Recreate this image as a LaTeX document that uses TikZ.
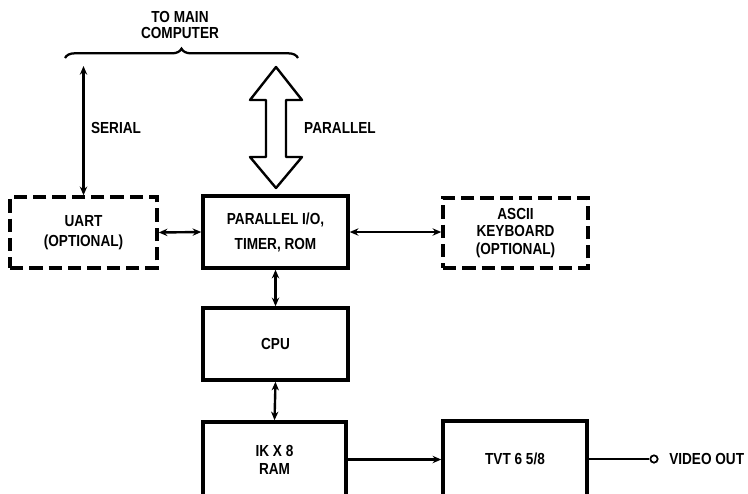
\documentclass[tikz,border=0pt]{standalone}
\usepackage{fontspec}
\setmainfont{Liberation Sans}[FakeStretch=0.85]
\usetikzlibrary{arrows.meta,decorations.pathreplacing}
\begin{document}
\begin{tikzpicture}[x=0.75pt,y=-0.75pt,
  font=\bfseries\fontsize{12}{13}\selectfont,
  box/.style={draw, line width=2.6pt, align=center, inner sep=0pt},
  dbox/.style={box, dash pattern=on 10pt off 4.5pt},
  conn/.style={line width=1.8pt, {Stealth[length=6.5pt,width=5.5pt]}-{Stealth[length=6.5pt,width=5.5pt]}},
  oneway/.style={line width=1.8pt, -{Stealth[length=6.5pt,width=5.5pt]}},
  lbl/.style={align=center, inner sep=0pt}]
\useasboundingbox (0,0) rectangle (748,493);
\clip (0,0) rectangle (748,493);

% title and brace
\node[lbl, font=\bfseries\fontsize{12}{12}\selectfont] (title) at (180,25) {TO MAIN\\COMPUTER};
\draw[line width=1.7pt, decorate, decoration={brace, amplitude=7pt}] (65,58) -- (298,58);

% boxes
\node[dbox, minimum width=110.25pt, minimum height=53.25pt,
      font=\bfseries\fontsize{12}{15}\selectfont] (uart) at (83.5,232.5) {UART\\(OPTIONAL)};
\node[box, minimum width=108.75pt, minimum height=54pt,
      font=\bfseries\fontsize{12}{18.75}\selectfont] (pio) at (275.5,232) {PARALLEL I/O,\\TIMER, ROM};
\node[dbox, minimum width=108.75pt, minimum height=52.5pt,
      font=\bfseries\fontsize{12}{13.2}\selectfont] (kb) at (515.5,233) {ASCII\\KEYBOARD\\(OPTIONAL)};
\node[box, minimum width=108.75pt, minimum height=54pt] (cpu) at (275.5,344) {CPU};
\node[box, minimum width=107.25pt, minimum height=56.25pt,
      font=\bfseries\fontsize{12}{13.5}\selectfont] (ram) at (274.5,459.5) {IK X 8\\RAM};
\node[box, minimum width=108pt, minimum height=57pt] (tvt) at (515,459) {TVT 6 5/8};

% serial link
\coordinate (sertop) at (83.5,66);
\draw[conn] (uart.north) -- (sertop);
\node[lbl] (serial) at (116,128) {SERIAL};

% parallel fat double arrow
\draw[line width=1.8pt, fill=white, line join=round]
  (276,67) -- (302,100) -- (286,100) -- (286,157) -- (302,157) -- (276,188)
  -- (250,157) -- (266,157) -- (266,100) -- (250,100) -- cycle;
\node[lbl] (parallel) at (340,128) {PARALLEL};

% connectors
\draw[conn] (uart.east) -- (pio.west);
\draw[conn] (pio.east) -- (pio.east -| kb.west);
\draw[conn] (pio.south) -- (cpu.north);
\draw[conn] (cpu.south) -- (ram.north);
\draw[oneway] (ram.east) -- (ram.east -| tvt.west);

% video out
\node[circle, draw, line width=1.3pt, inner sep=0pt, minimum size=5.5pt] (vo) at (654,459) {};
\draw[line width=1.8pt] (tvt.east) -- (vo.west);
\node[lbl, anchor=west] (vtxt) at (669,459) {VIDEO OUT};
\end{tikzpicture}
\end{document}
